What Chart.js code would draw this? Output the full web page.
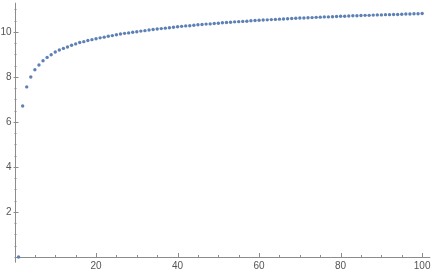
<!DOCTYPE html>
<html>
<head>
<meta charset="utf-8">
<script src="https://cdn.jsdelivr.net/npm/chart.js@4/dist/chart.umd.min.js"></script>
<style>
  html, body { margin: 0; padding: 0; background: #fff; }
  canvas { display: block; }
</style>
</head>
<body>
<canvas id="plot" width="432" height="273"></canvas>
<script>
// values, n = 1..100
const yValues = [
  0.00, 6.71, 7.56, 8.00, 8.32, 8.53, 8.72, 8.87, 8.99, 9.11,
  9.20, 9.27, 9.33, 9.41, 9.47, 9.53, 9.57, 9.62, 9.66, 9.70,
  9.74, 9.77, 9.81, 9.84, 9.88, 9.91, 9.94, 9.96, 9.99, 10.01,
  10.04, 10.06, 10.09, 10.11, 10.13, 10.15, 10.17, 10.19, 10.21, 10.23,
  10.25, 10.27, 10.28, 10.30, 10.32, 10.33, 10.35, 10.36, 10.38, 10.39,
  10.41, 10.42, 10.43, 10.45, 10.46, 10.47, 10.48, 10.50, 10.51, 10.52,
  10.53, 10.54, 10.55, 10.56, 10.57, 10.58, 10.59, 10.60, 10.61, 10.62,
  10.62, 10.63, 10.64, 10.65, 10.66, 10.67, 10.67, 10.68, 10.69, 10.70,
  10.70, 10.71, 10.72, 10.72, 10.73, 10.74, 10.74, 10.75, 10.76, 10.76,
  10.77, 10.77, 10.78, 10.78, 10.79, 10.80, 10.80, 10.81, 10.81, 10.82
];
const xValues = yValues.map((_, i) => i + 1);

const xTickLabels = [20, 40, 60, 80, 100];
const yTickLabels = [2, 4, 6, 8, 10];

const points = xValues.map((x, i) => ({ x: x, y: yValues[i] }));

const axisColor = '#8c8c8c';
const labelColor = '#555';

// Mathematica style axes through the origin, ticks inward
const axesPlugin = {
  id: 'axes',
  beforeDatasetsDraw(chart) {
    const { ctx, chartArea: a, scales: { x, y } } = chart;
    const x0 = x.getPixelForValue(0);
    const y0 = y.getPixelForValue(0);
    ctx.save();
    ctx.strokeStyle = axisColor;
    ctx.lineWidth = 1;
    ctx.beginPath();
    ctx.moveTo(a.left, Math.round(y0) + 0.5);
    ctx.lineTo(a.right, Math.round(y0) + 0.5);
    ctx.moveTo(Math.round(x0) + 0.5, a.top);
    ctx.lineTo(Math.round(x0) + 0.5, a.bottom);
    // x ticks every 5
    for (let v = 5; v <= x.max; v += 5) {
      const px = Math.round(x.getPixelForValue(v)) + 0.5;
      const len = v % 20 === 0 ? 4 : 2;
      ctx.moveTo(px, y0 - len);
      ctx.lineTo(px, y0 + (v % 20 === 0 ? 1 : 0));
    }
    // y ticks every 0.5
    for (let v = 0.5; v <= y.max; v += 0.5) {
      const py = Math.round(y.getPixelForValue(v)) + 0.5;
      const len = v % 2 === 0 ? 4 : 2;
      ctx.moveTo(x0 - (v % 2 === 0 ? 1 : 0), py);
      ctx.lineTo(x0 + len, py);
    }
    ctx.stroke();

    ctx.fillStyle = labelColor;
    ctx.font = '10px "Liberation Sans", Arial, sans-serif';
    ctx.textAlign = 'center';
    ctx.textBaseline = 'middle';
    xTickLabels.forEach(v => ctx.fillText(String(v), x.getPixelForValue(v), y0 + 9));
    ctx.textAlign = 'right';
    yTickLabels.forEach(v => ctx.fillText(String(v), x0 - 3, y.getPixelForValue(v)));
    ctx.restore();
  }
};

new Chart(document.getElementById('plot'), {
  type: 'scatter',
  data: {
    datasets: [{
      data: points,
      backgroundColor: '#5e81b5',
      borderColor: '#5e81b5',
      borderWidth: 0,
      pointRadius: 1.7,
      pointHoverRadius: 1.7
    }]
  },
  options: {
    responsive: false,
    devicePixelRatio: 1,
    animation: false,
    layout: { padding: { left: 14.5, right: 0.6, top: 2.75, bottom: 10.4 } },
    plugins: { legend: { display: false }, tooltip: { enabled: false } },
    scales: {
      x: { type: 'linear', display: false, min: 0, max: 102 },
      y: { type: 'linear', display: false, min: -0.25, max: 11.3 }
    }
  },
  plugins: [axesPlugin]
});
</script>
</body>
</html>
